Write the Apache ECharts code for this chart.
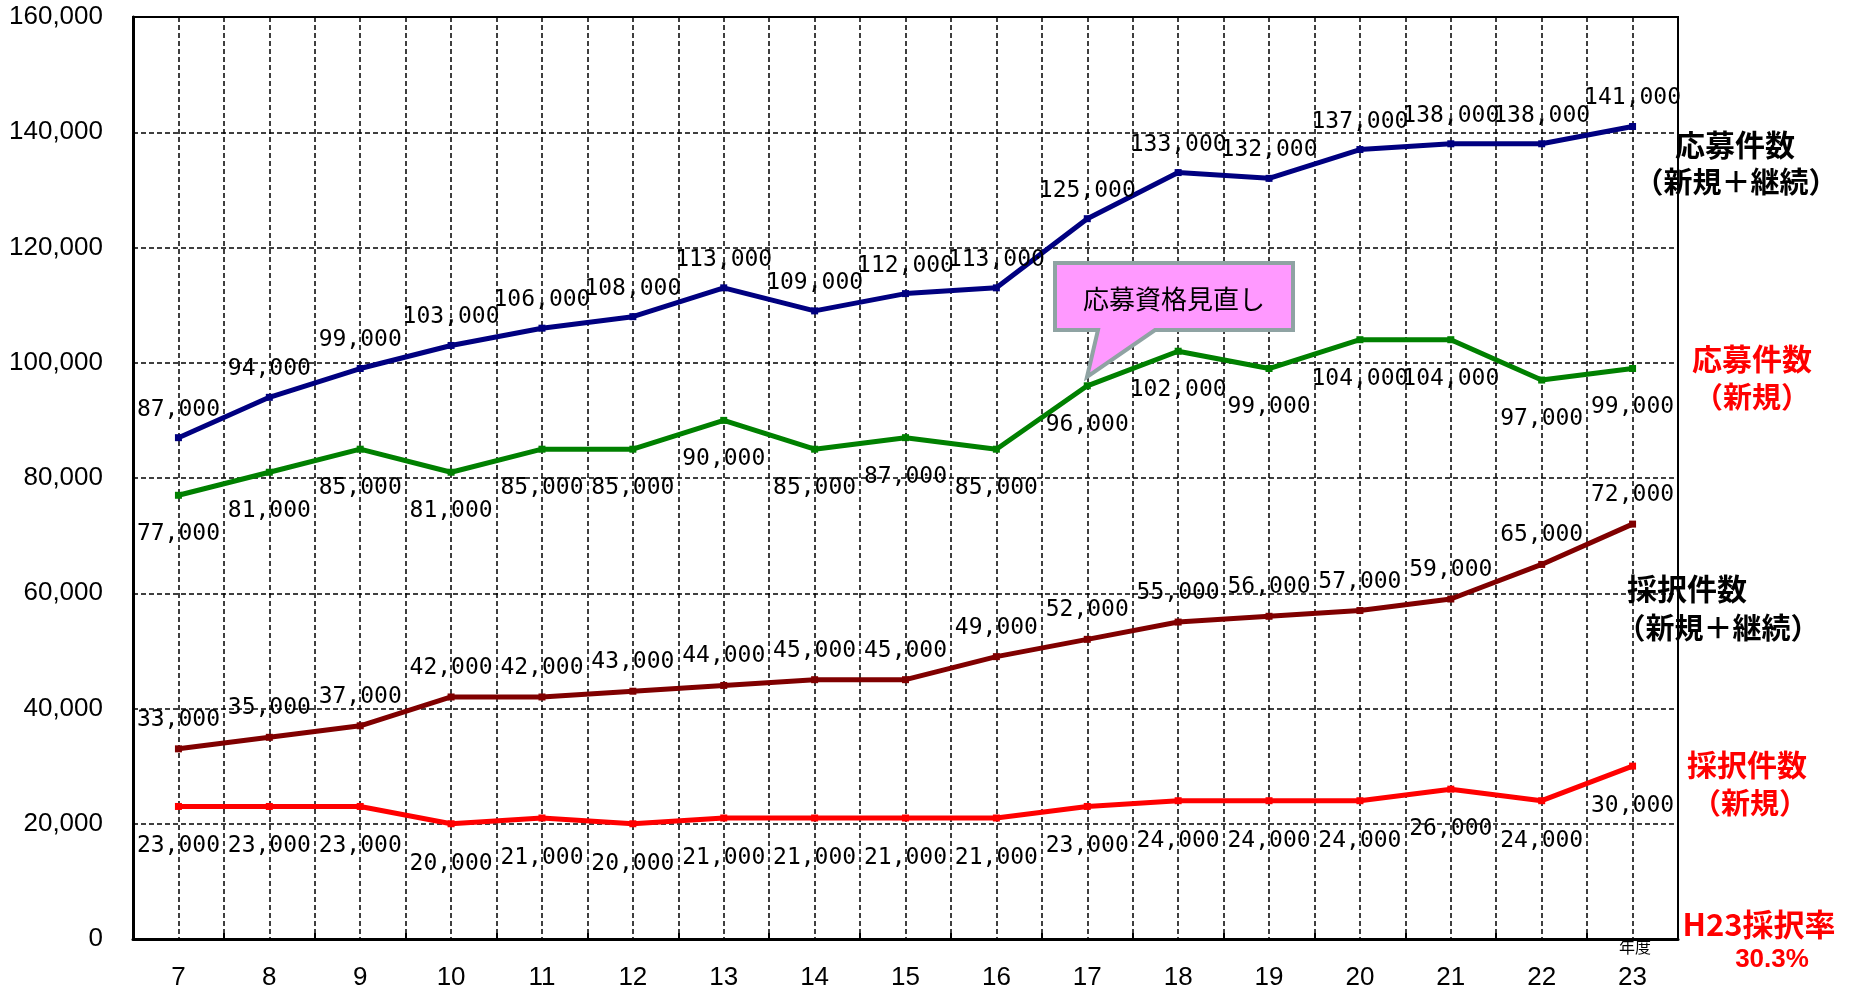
<!DOCTYPE html>
<html>
<head>
<meta charset="utf-8">
<script src="https://cdn.jsdelivr.net/npm/echarts@6/dist/echarts.min.js"></script>
<style>
html,body{margin:0;padding:0;background:#fff;}
#chart{width:1858px;height:991px;}
</style>
</head>
<body>
<div id="chart"></div>
<script>
const years = ['7','8','9','10','11','12','13','14','15','16','17','18','19','20','21','22','23'];
const appliedTotal = [87000,94000,99000,103000,106000,108000,113000,109000,112000,113000,125000,133000,132000,137000,138000,138000,141000];
const appliedNew = [77000,81000,85000,81000,85000,85000,90000,85000,87000,85000,96000,102000,99000,104000,104000,97000,99000];
const adoptedTotal = [33000,35000,37000,42000,42000,43000,44000,45000,45000,49000,52000,55000,56000,57000,59000,65000,72000];
const adoptedNew = [23000,23000,23000,20000,21000,20000,21000,21000,21000,21000,23000,24000,24000,24000,26000,24000,30000];
const yTicks = [0,20000,40000,60000,80000,100000,120000,140000,160000];

const fmt = v => Number(v).toLocaleString('en-US');
const labelFont = '"DejaVu Sans Mono", monospace';
const cjk = '"Noto Sans CJK JP", sans-serif';

function mkSeries(name, data, color, pos, dist) {
  return {
    name, type: 'line', data, xAxisIndex: 0, yAxisIndex: 0,
    symbol: 'rect', symbolSize: 7,
    lineStyle: {color, width: 5},
    itemStyle: {color},
    label: {
      show: true, position: pos, distance: dist,
      formatter: p => fmt(p.value),
      fontFamily: labelFont, fontSize: 23, color: '#000'
    },
    z: 5
  };
}

const chart = echarts.init(document.getElementById('chart'));
const txt = (x, y, text, size, color, weight, font) => ({
  type: 'text', x, y, z: 10,
  style: {text, fontSize: size, fill: color, fontWeight: weight || 'normal',
    fontFamily: font || cjk, textAlign: 'center', textVerticalAlign: 'middle'}
});

chart.setOption({
  backgroundColor: '#fff',
  animation: false,
  grid: {left: 133, top: 17, right: 180, bottom: 52, show: true, borderColor: '#000', borderWidth: 2, backgroundColor: 'transparent'},
  xAxis: [{
    type: 'category', data: years, boundaryGap: true, position: 'bottom',
    axisLine: {lineStyle: {color: '#000', width: 3}},
    axisTick: {show: true, inside: true, length: 6, lineStyle: {color: '#000', width: 2}},
    axisLabel: {fontFamily: '"Liberation Sans", Arial, sans-serif', fontSize: 26, color: '#000', margin: 26},
    splitLine: {show: false}
  }, {
    type: 'value', min: 0, max: 34, interval: 1, position: 'bottom',
    axisLine: {show: false}, axisTick: {show: false}, axisLabel: {show: false},
    splitLine: {show: true, lineStyle: {color: '#000', width: 1.5, type: [5, 3]}}
  }],
  yAxis: {
    type: 'value', min: yTicks[0], max: yTicks[yTicks.length - 1], interval: 20000,
    axisLine: {show: true, lineStyle: {color: '#000', width: 3}},
    axisTick: {show: false},
    axisLabel: {formatter: v => fmt(v), fontFamily: '"Liberation Sans", Arial, sans-serif', fontSize: 26, color: '#000', margin: 30},
    splitLine: {show: true, lineStyle: {color: '#000', width: 1.5, type: [5, 3]}}
  },
  series: [
    mkSeries('応募件数（新規＋継続）', appliedTotal, '#000080', 'top', 13),
    mkSeries('応募件数（新規）', appliedNew, '#008000', 'bottom', 24),
    mkSeries('採択件数（新規＋継続）', adoptedTotal, '#800000', 'top', 14),
    mkSeries('採択件数（新規）', adoptedNew, '#FF0000', 'bottom', 25)
  ],
  graphic: [
    {
      type: 'polygon', z: 8,
      shape: {points: [[1055,263],[1293,263],[1293,330],[1155,330],[1087,377],[1098,330],[1055,330]]},
      style: {fill: '#FF99FF', stroke: '#8FA3A3', lineWidth: 4}
    },
    txt(1174, 299, '応募資格見直し', 26, '#000'),
    txt(1735, 145, '応募件数', 30, '#000', 'bold'),
    txt(1736, 182, '（新規＋継続）', 29, '#000', 'bold'),
    txt(1752, 359, '応募件数', 30, '#FF0000', 'bold'),
    txt(1752, 397, '（新規）', 29, '#FF0000', 'bold'),
    txt(1687, 589, '採択件数', 30, '#000', 'bold'),
    txt(1718, 628, '（新規＋継続）', 29, '#000', 'bold'),
    txt(1747, 765, '採択件数', 30, '#FF0000', 'bold'),
    txt(1750, 803, '（新規）', 29, '#FF0000', 'bold'),
    txt(1759, 924, 'H23採択率', 31, '#FF0000', 'bold'),
    txt(1772, 960, '30.3%', 26, '#FF0000', 'bold', '"Liberation Sans", Arial, sans-serif'),
    txt(1635, 947, '年度', 16, '#000')
  ]
});
</script>
</body>
</html>
